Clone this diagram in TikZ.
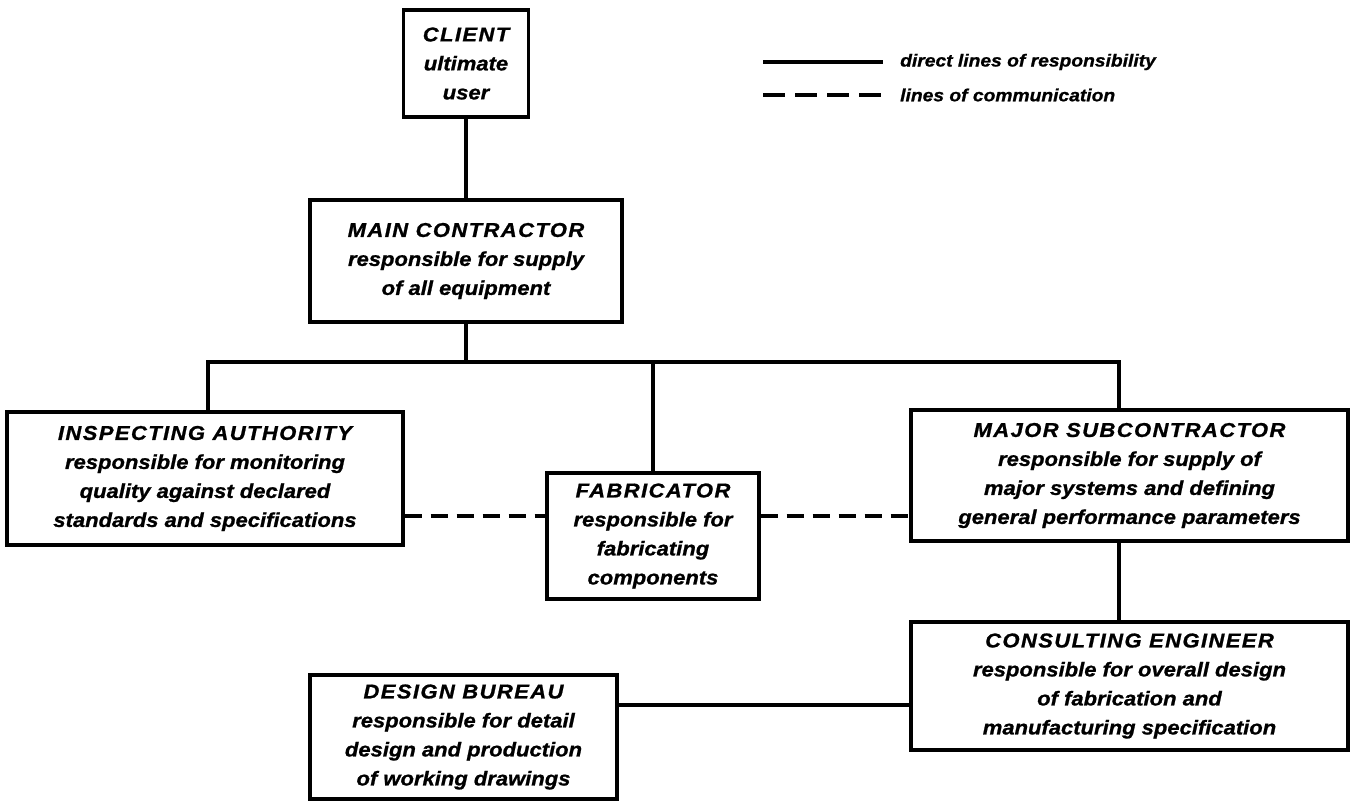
\documentclass[tikz,border=0pt]{standalone}
\usepackage{fontspec}
\newfontfamily\boxfont{Liberation Sans}[FakeStretch=1.1,FakeBold=1]
\newfontfamily\boxtitlefont{Liberation Sans}[FakeStretch=1.1,LetterSpace=7,FakeBold=1]
\newcommand\boxtitle[1]{{\boxtitlefont\bfseries\itshape #1}}
\begin{document}
\begin{tikzpicture}[x=1pt,y=-1pt,
  box/.style={draw, line width=3.3pt, inner sep=0pt, align=center,
    font=\boxfont\bfseries\itshape\fontsize{20}{29}\selectfont},
  resp/.style={line width=3.6pt},
  comm/.style={line width=3.6pt, dash pattern=on 17pt off 9pt},
  legtext/.style={anchor=west, inner sep=0pt,
    font=\boxfont\bfseries\itshape\fontsize{17.5}{20}\selectfont}]
\useasboundingbox (0,0) rectangle (1352,802);

% boxes
\node[box, minimum width=125pt, minimum height=107pt] (client) at (466,63.5)
  {\boxtitle{CLIENT}\\ultimate\\user};
\node[box, minimum width=312pt, minimum height=122pt] (main) at (466,261)
  {\boxtitle{MAIN CONTRACTOR}\\responsible for supply\\of all equipment};
\node[box, minimum width=396pt, minimum height=133pt] (insp) at (205,478.5)
  {\boxtitle{INSPECTING AUTHORITY}\\responsible for monitoring\\quality against declared\\standards and specifications};
\node[box, minimum width=212pt, minimum height=126pt] (fab) at (653,536)
  {\boxtitle{FABRICATOR}\\responsible for\\fabricating\\components};
\node[box, minimum width=437pt, minimum height=131pt] (ms) at (1129.5,475.5)
  {\boxtitle{MAJOR SUBCONTRACTOR}\\responsible for supply of\\major systems and defining\\general performance parameters};
\node[box, minimum width=437pt, minimum height=128pt] (ce) at (1129.5,686)
  {\boxtitle{CONSULTING ENGINEER}\\responsible for overall design\\of fabrication and\\manufacturing specification};
\node[box, minimum width=307pt, minimum height=124pt] (db) at (463.5,737)
  {\boxtitle{DESIGN BUREAU}\\responsible for detail\\design and production\\of working drawings};

% helper coordinates
\coordinate (busL) at (208,362);
\coordinate (busR) at (1119,362);
\coordinate (dashy) at (0,516);
\coordinate (dby) at (0,705);

% lines of responsibility
\draw[resp] (client.south) -- (main.north);
\draw[resp] (main.south) -- (main.south |- busL);
\draw[resp] (insp.north -| busL) -- (busL) -- (busR) -- (busR |- ms.north);
\draw[resp] (fab.north) -- (fab.north |- busL);
\draw[resp] (busR |- ms.south) -- (busR |- ce.north);
\draw[resp] (dby -| db.east) -- (dby -| ce.west);

% lines of communication
\draw[comm] (dashy -| insp.east) -- (dashy -| fab.west);
\draw[comm] (dashy -| fab.east) -- (dashy -| ms.west);

% legend
\coordinate (l1a) at (763,62);
\coordinate (l1b) at (883,62);
\coordinate (l2a) at (763,95);
\coordinate (l2b) at (883,95);
\draw[resp] (l1a) -- (l1b);
\draw[line width=3.6pt, dash pattern=on 22pt off 10pt] (l2a) -- (l2b);
\node[legtext] (leg1) at (900,62) {direct lines of responsibility};
\node[legtext] (leg2) at (900,95) {lines of communication};
\end{tikzpicture}
\end{document}
